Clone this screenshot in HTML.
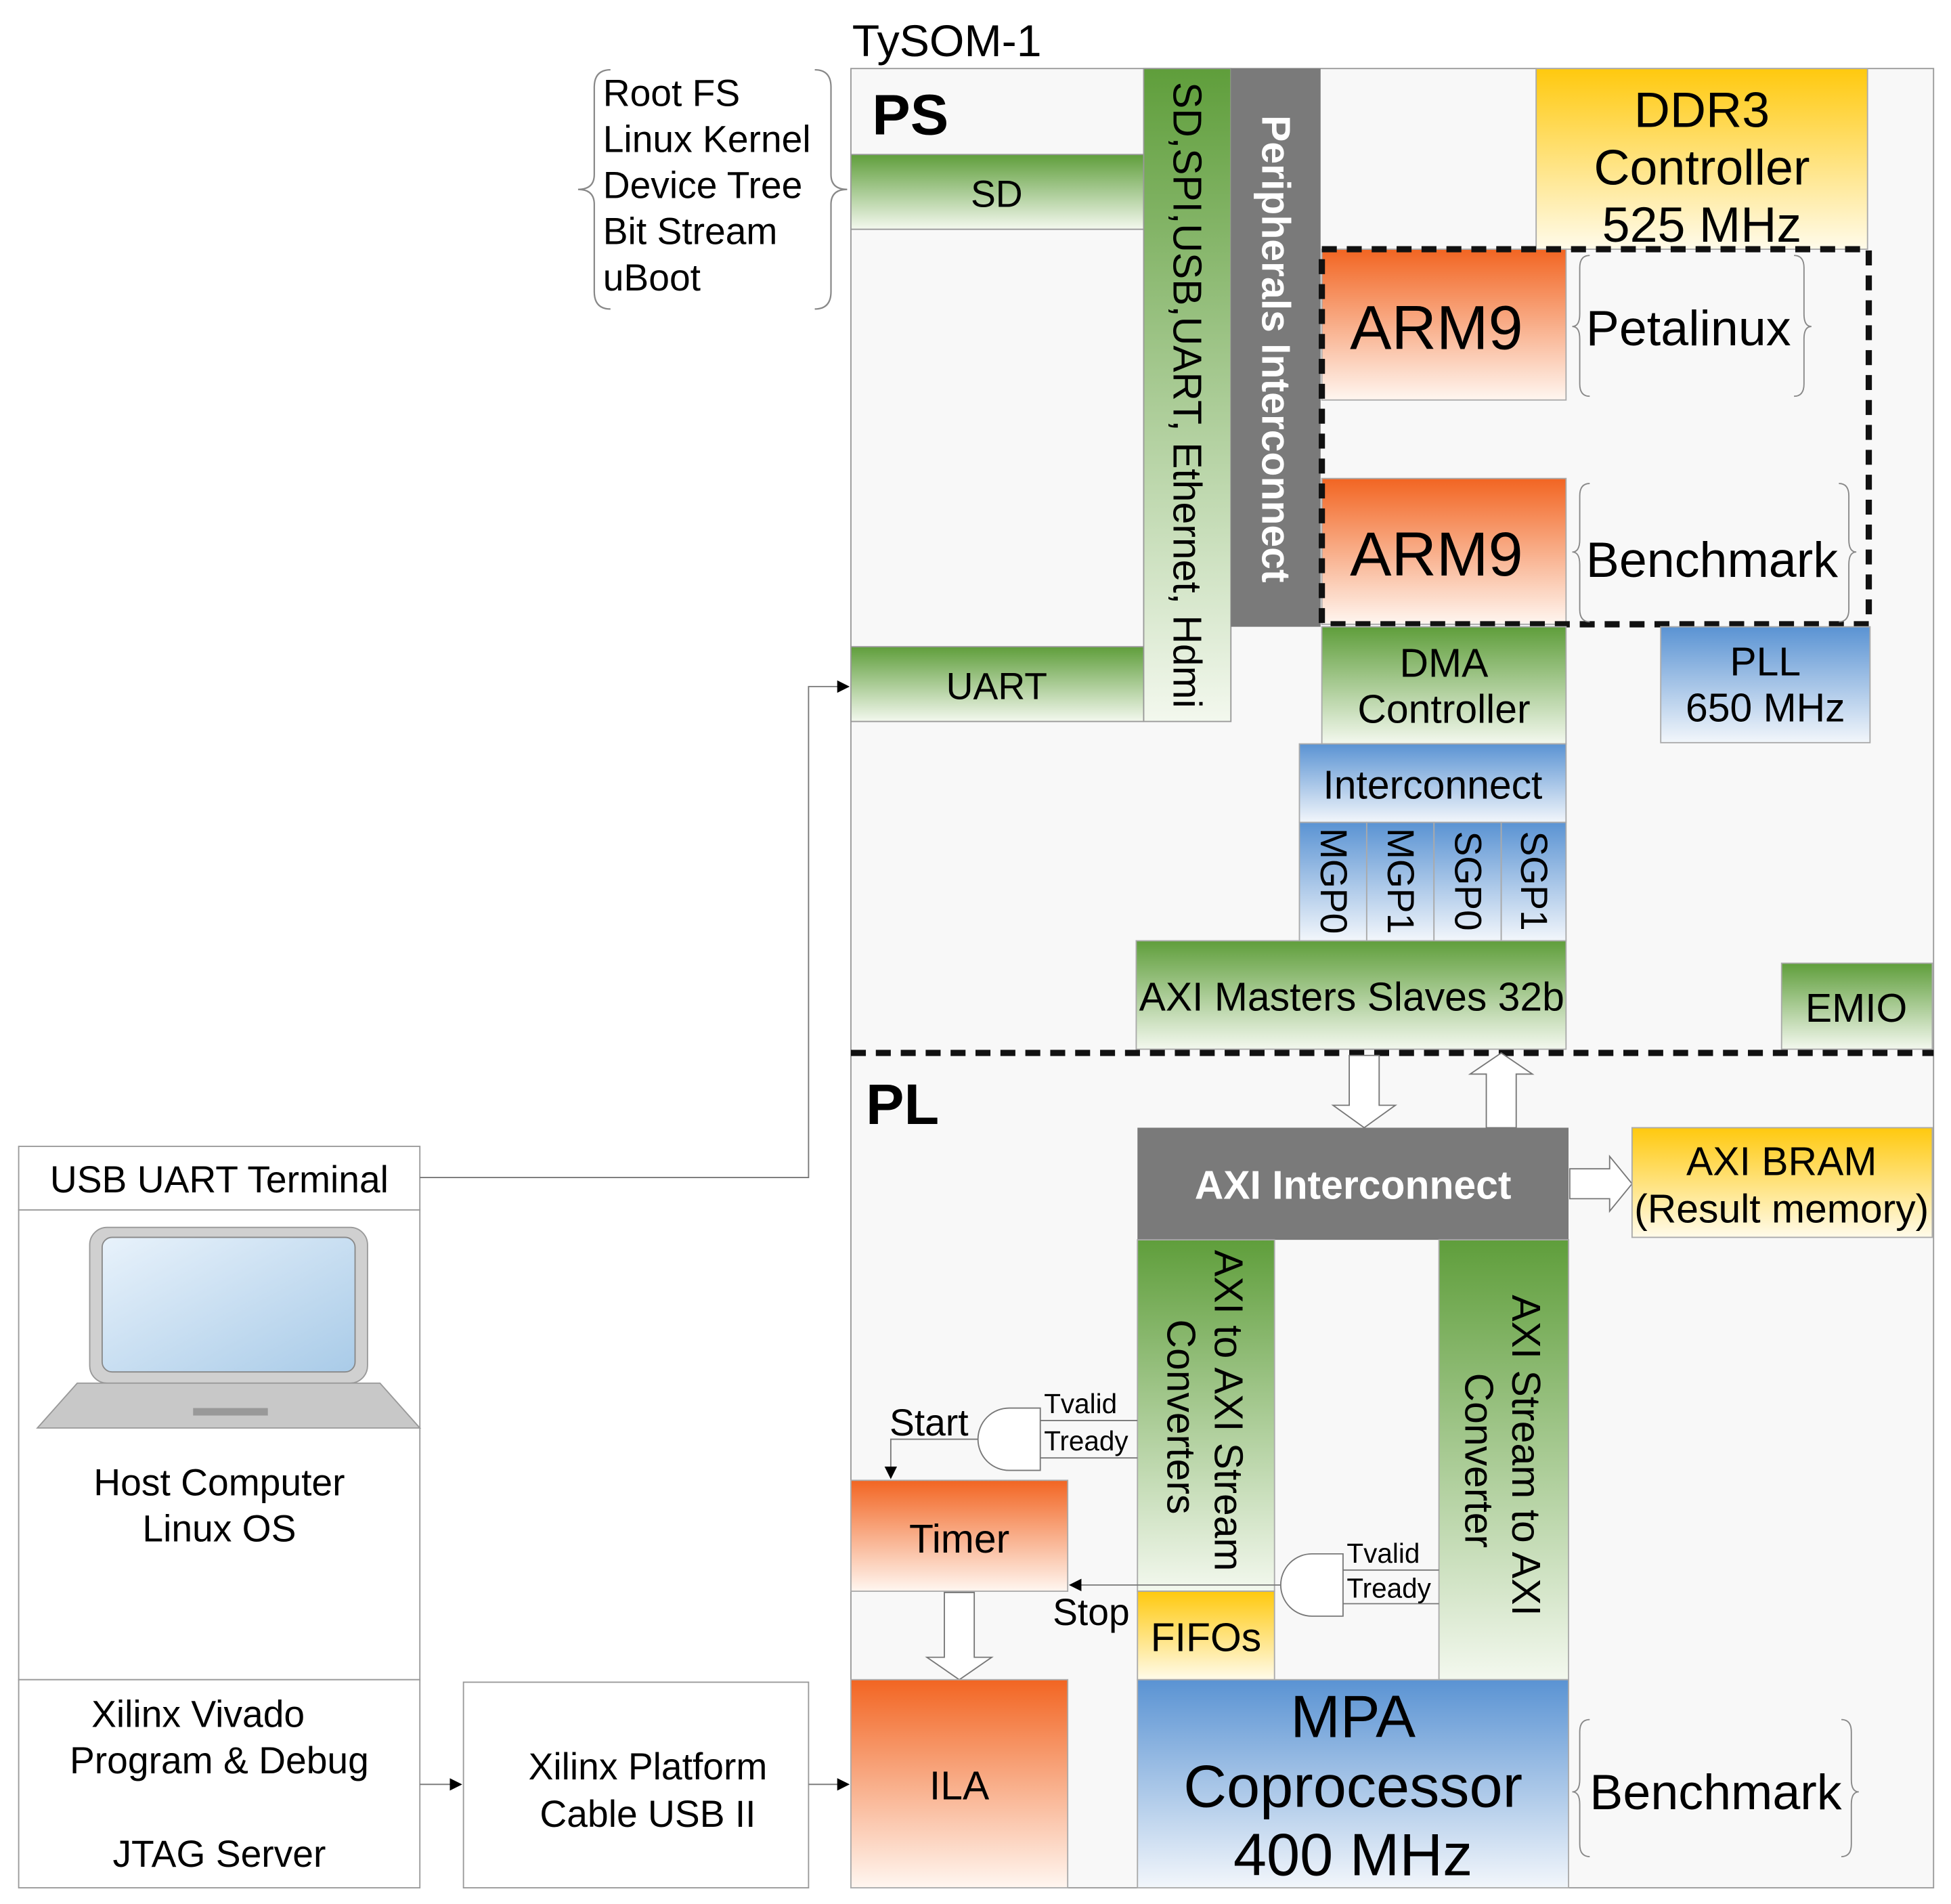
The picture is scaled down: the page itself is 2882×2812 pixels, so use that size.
<!DOCTYPE html>
<html><head><meta charset="utf-8"><style>
html,body{margin:0;padding:0;background:#fff}
svg{display:block}
text{font-family:"Liberation Sans",Arial,sans-serif;fill:#000}
</style></head><body>
<svg width="2882" height="2812" viewBox="0 0 1566 1528" preserveAspectRatio="none" xmlns="http://www.w3.org/2000/svg">
<defs>
<linearGradient id="g" x1="0" y1="0" x2="0" y2="1"><stop offset="0" stop-color="#5f9e3b"/><stop offset="1" stop-color="#f3f8ee"/></linearGradient>
<linearGradient id="y" x1="0" y1="0" x2="0" y2="1"><stop offset="0" stop-color="#ffc90e"/><stop offset="1" stop-color="#fffbea"/></linearGradient>
<linearGradient id="o" x1="0" y1="0" x2="0" y2="1"><stop offset="0" stop-color="#f26522"/><stop offset="1" stop-color="#fff6f0"/></linearGradient>
<linearGradient id="b" x1="0" y1="0" x2="0" y2="1"><stop offset="0" stop-color="#5a93d3"/><stop offset="1" stop-color="#f2f6fb"/></linearGradient>
<linearGradient id="scr" x1="0" y1="0" x2="1" y2="1"><stop offset="0" stop-color="#e8f2fb"/><stop offset="1" stop-color="#a9cbe8"/></linearGradient>
<marker id="ar" markerWidth="10" markerHeight="10" refX="9" refY="5" orient="auto" markerUnits="userSpaceOnUse"><path d="M0,0 L10,5 L0,10z" fill="#000"/></marker>
</defs>

<text x="684" y="45" font-size="36">TySOM-1</text>
<rect x="683" y="55" width="869" height="1460" fill="#f8f8f8" stroke="#999" stroke-width="1"/>
<text x="700" y="108" font-size="46" font-weight="bold">PS</text>

<path d="M490,56 Q477,56 477,70 L477,140 Q477,152 464,152 Q477,152 477,164 L477,234 Q477,248 490,248" fill="none" stroke="#888" stroke-width="1.2"/>
<path d="M654,56 Q667,56 667,70 L667,140 Q667,152 680,152 Q667,152 667,164 L667,234 Q667,248 654,248" fill="none" stroke="#888" stroke-width="1.2"/>
<g font-size="30"><text x="484" y="85">Root FS</text><text x="484" y="122">Linux Kernel</text><text x="484" y="159">Device Tree</text><text x="484" y="196">Bit Stream</text><text x="484" y="233">uBoot</text></g>

<rect x="683" y="124" width="235" height="60" fill="url(#g)" stroke="#999"/>
<text x="800" y="166" font-size="30" text-anchor="middle">SD</text>
<rect x="683" y="519" width="235" height="60" fill="url(#g)" stroke="#999"/>
<text x="800" y="561" font-size="30" text-anchor="middle">UART</text>
<rect x="918" y="55" width="70" height="524" fill="url(#g)" stroke="#999"/>
<text transform="translate(942,317) rotate(90)" font-size="32" text-anchor="middle">SD,SPI,USB,UART, Ethernet, Hdmi</text>
<rect x="988" y="55" width="72" height="448" fill="#7a7a7a"/>
<text transform="translate(1013,280) rotate(90)" font-size="32" font-weight="bold" text-anchor="middle" style="fill:#fff">Peripherals Interconnect</text>

<rect x="1233" y="55" width="266" height="145" fill="url(#y)" stroke="#aaa"/>
<g font-size="40" text-anchor="middle"><text x="1366" y="102">DDR3</text><text x="1366" y="148">Controller</text><text x="1366" y="194">525 MHz</text></g>

<rect x="1061" y="200" width="196" height="121" fill="url(#o)" stroke="#aaa"/>
<text x="1153" y="280" font-size="50" text-anchor="middle">ARM9</text>
<rect x="1061" y="384" width="196" height="117" fill="url(#o)" stroke="#aaa"/>
<text x="1153" y="462" font-size="50" text-anchor="middle">ARM9</text>
<rect x="1061" y="200" width="439" height="301" fill="none" stroke="#111" stroke-width="5" stroke-dasharray="12,8"/>

<path d="M1276,205 Q1268,205 1268,215 L1268,252 Q1268,262 1262,262 Q1268,262 1268,272 L1268,308 Q1268,318 1276,318" fill="none" stroke="#888"/>
<path d="M1440,205 Q1448,205 1448,215 L1448,252 Q1448,262 1454,262 Q1448,262 1448,272 L1448,308 Q1448,318 1440,318" fill="none" stroke="#888"/>
<text x="1273" y="277" font-size="40">Petalinux</text>
<path d="M1276,388 Q1268,388 1268,398 L1268,433 Q1268,443 1262,443 Q1268,443 1268,453 L1268,489 Q1268,499 1276,499" fill="none" stroke="#888"/>
<path d="M1476,388 Q1484,388 1484,398 L1484,433 Q1484,443 1490,443 Q1484,443 1484,453 L1484,489 Q1484,499 1476,499" fill="none" stroke="#888"/>
<text x="1273" y="463" font-size="40">Benchmark</text>

<rect x="1061" y="503" width="196" height="94" fill="url(#g)" stroke="#aaa"/>
<g font-size="32" text-anchor="middle"><text x="1159" y="543">DMA</text><text x="1159" y="580">Controller</text></g>
<rect x="1333" y="503" width="168" height="93" fill="url(#b)" stroke="#aaa"/>
<g font-size="32" text-anchor="middle"><text x="1417" y="542">PLL</text><text x="1417" y="579">650 MHz</text></g>

<rect x="1043" y="597" width="214" height="63" fill="url(#b)" stroke="#aaa"/>
<text x="1150" y="641" font-size="32" text-anchor="middle">Interconnect</text>
<g font-size="30" text-anchor="middle">
<rect x="1043" y="660" width="54" height="95" fill="url(#b)" stroke="#aaa"/><text transform="translate(1060,707) rotate(90)">MGP0</text>
<rect x="1097" y="660" width="54" height="95" fill="url(#b)" stroke="#aaa"/><text transform="translate(1114,707) rotate(90)">MGP1</text>
<rect x="1151" y="660" width="54" height="95" fill="url(#b)" stroke="#aaa"/><text transform="translate(1168,707) rotate(90)">SGP0</text>
<rect x="1205" y="660" width="52" height="95" fill="url(#b)" stroke="#aaa"/><text transform="translate(1221,707) rotate(90)">SGP1</text>
</g>
<rect x="912" y="755" width="345" height="87" fill="url(#g)" stroke="#aaa"/>
<text x="1085" y="811" font-size="32" text-anchor="middle">AXI Masters Slaves 32b</text>
<rect x="1430" y="773" width="121" height="69" fill="url(#g)" stroke="#aaa"/>
<text x="1490" y="820" font-size="32" text-anchor="middle">EMIO</text>

<line x1="683" y1="845" x2="1552" y2="845" stroke="#111" stroke-width="5" stroke-dasharray="12,8"/>
<text x="695" y="902" font-size="46" font-weight="bold">PL</text>

<path d="M1083,847 L1107,847 L1107,887 L1120,887 L1095,905 L1070,887 L1083,887Z" fill="#fff" stroke="#777"/>
<path d="M1193,905 L1217,905 L1217,862 L1230,862 L1205,845 L1180,862 L1193,862Z" fill="#fff" stroke="#777"/>
<path d="M1260,938 L1292,938 L1292,928 L1310,950 L1292,972 L1292,962 L1260,962Z" fill="#fff" stroke="#777"/>
<path d="M758,1278 L782,1278 L782,1330 L796,1330 L770,1348 L744,1330 L758,1330Z" fill="#fff" stroke="#777"/>

<rect x="913" y="905" width="346" height="90" fill="#7a7a7a"/>
<text x="1086" y="962" font-size="32" font-weight="bold" text-anchor="middle" style="fill:#fff">AXI Interconnect</text>
<rect x="1310" y="905" width="241" height="88" fill="url(#y)" stroke="#aaa"/>
<g font-size="32" text-anchor="middle"><text x="1430" y="943">AXI BRAM</text><text x="1430" y="981">(Result memory)</text></g>

<rect x="913" y="995" width="110" height="282" fill="url(#g)" stroke="#aaa"/>
<g font-size="32" text-anchor="middle"><text transform="translate(975,1132) rotate(90)">AXI to AXI Stream</text><text transform="translate(937,1137) rotate(90)">Converters</text></g>
<rect x="1155" y="995" width="104" height="353" fill="url(#g)" stroke="#aaa"/>
<g font-size="32" text-anchor="middle"><text transform="translate(1214,1168) rotate(90)">AXI Stream to AXI</text><text transform="translate(1176,1172) rotate(90)">Converter</text></g>
<rect x="913" y="1277" width="110" height="71" fill="url(#y)" stroke="#aaa"/>
<text x="968" y="1325" font-size="32" text-anchor="middle">FIFOs</text>
<rect x="913" y="1348" width="346" height="167" fill="url(#b)" stroke="#aaa"/>
<g font-size="48" text-anchor="middle"><text x="1086" y="1394">MPA</text><text x="1086" y="1450">Coprocessor</text><text x="1086" y="1505">400 MHz</text></g>
<path d="M1276,1380 Q1268,1380 1268,1390 L1268,1428 Q1268,1438 1262,1438 Q1268,1438 1268,1448 L1268,1480 Q1268,1490 1276,1490" fill="none" stroke="#888"/>
<path d="M1478,1380 Q1486,1380 1486,1390 L1486,1428 Q1486,1438 1492,1438 Q1486,1438 1486,1448 L1486,1480 Q1486,1490 1478,1490" fill="none" stroke="#888"/>
<text x="1276" y="1452" font-size="40">Benchmark</text>

<rect x="683" y="1188" width="174" height="89" fill="url(#o)" stroke="#aaa"/>
<text x="770" y="1246" font-size="32" text-anchor="middle">Timer</text>
<rect x="683" y="1348" width="174" height="167" fill="url(#o)" stroke="#aaa"/>
<text x="770" y="1444" font-size="32" text-anchor="middle">ILA</text>

<path d="M835,1130 L810,1130 A25,25 0 0 0 810,1180 L835,1180Z" fill="#fff" stroke="#777"/>
<line x1="835" y1="1140" x2="913" y2="1140" stroke="#777"/>
<line x1="835" y1="1170" x2="913" y2="1170" stroke="#777"/>
<polyline points="785,1155 715,1155 715,1186" fill="none" stroke="#777" marker-end="url(#ar)"/>
<text x="714" y="1152" font-size="30">Start</text>
<g font-size="22"><text x="838" y="1134">Tvalid</text><text x="838" y="1164">Tready</text></g>
<path d="M1078,1247 L1053,1247 A25,25 0 0 0 1053,1297 L1078,1297Z" fill="#fff" stroke="#777"/>
<line x1="1078" y1="1260" x2="1155" y2="1260" stroke="#777"/>
<line x1="1078" y1="1287" x2="1155" y2="1287" stroke="#777"/>
<line x1="1028" y1="1272" x2="859" y2="1272" stroke="#777" marker-end="url(#ar)"/>
<text x="845" y="1304" font-size="30">Stop</text>
<g font-size="22"><text x="1081" y="1254">Tvalid</text><text x="1081" y="1282">Tready</text></g>

<rect x="15" y="920" width="322" height="51" fill="#fff" stroke="#999"/>
<text x="176" y="957" font-size="30" text-anchor="middle">USB UART Terminal</text>
<rect x="15" y="971" width="322" height="377" fill="#fff" stroke="#999"/>
<rect x="72" y="985" width="223" height="125" rx="14" fill="#d0d0d0" stroke="#999"/>
<rect x="82" y="993" width="203" height="108" rx="8" fill="url(#scr)" stroke="#888"/>
<path d="M62,1110 L305,1110 L337,1146 L30,1146Z" fill="#c8c8c8" stroke="#999"/>
<rect x="155" y="1130" width="60" height="6" fill="#999"/>
<g font-size="30" text-anchor="middle"><text x="176" y="1200">Host Computer</text><text x="176" y="1237">Linux OS</text></g>
<rect x="15" y="1348" width="322" height="167" fill="#fff" stroke="#999"/>
<g font-size="30" text-anchor="middle"><text x="159" y="1386">Xilinx Vivado</text><text x="176" y="1423">Program &amp; Debug</text><text x="176" y="1498">JTAG Server</text></g>
<rect x="372" y="1350" width="277" height="165" fill="#fff" stroke="#999"/>
<g font-size="30" text-anchor="middle"><text x="520" y="1428">Xilinx Platform</text><text x="520" y="1466">Cable USB II</text></g>

<polyline points="337,945 649,945 649,551 681,551" fill="none" stroke="#777" marker-end="url(#ar)"/>
<line x1="337" y1="1432" x2="370" y2="1432" stroke="#777" marker-end="url(#ar)"/>
<line x1="649" y1="1432" x2="681" y2="1432" stroke="#777" marker-end="url(#ar)"/>
</svg>
</body></html>
